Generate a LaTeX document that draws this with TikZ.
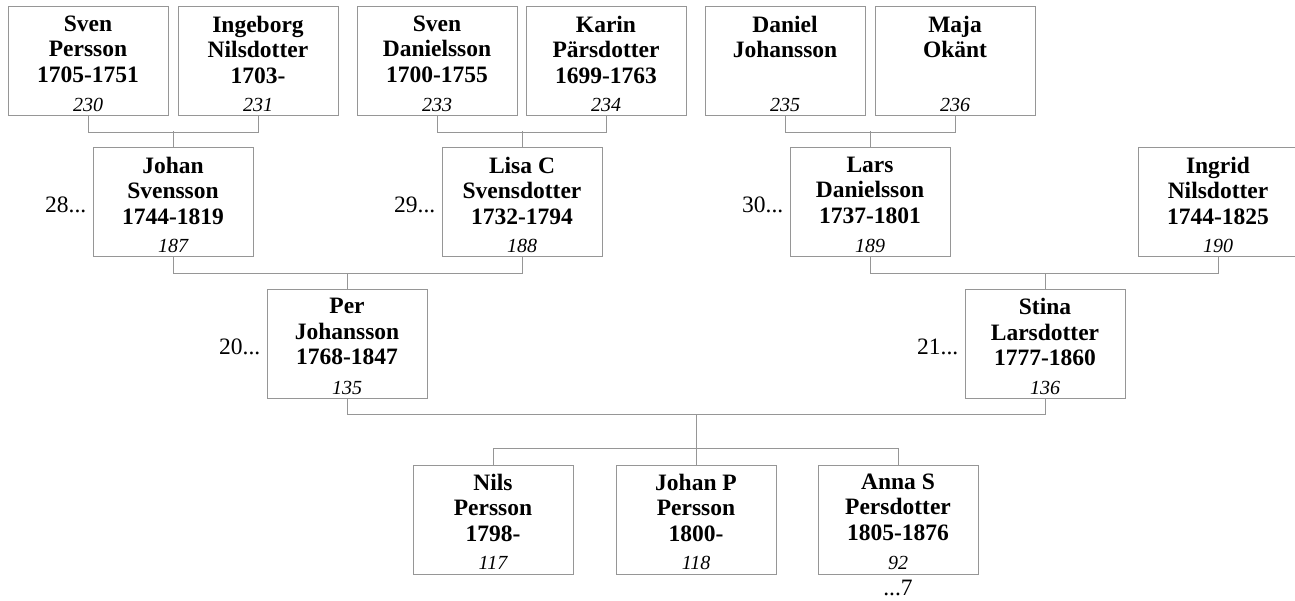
\documentclass[tikz,border=0pt]{standalone}
\usepackage{fontspec}
\setmainfont{Liberation Serif}
\usepackage{xcolor}
\usetikzlibrary{positioning}
\definecolor{boxgray}{RGB}{150,150,150}

% one person: name, x, y, text, number
\newcommand{\person}[5]{%
  \node[pbox] (#1) at (#2,#3) {};
  \node[pname,below=9pt of #1.north] (#1n) {#4};
  \node[pnum,anchor=base] (#1r) at ([yshift=5pt]#1.south) {#5};
}

\begin{document}
\begin{tikzpicture}[x=1pt,y=-1pt,
    pbox/.style={draw=boxgray,line width=1pt,minimum width=160pt,minimum height=109pt,inner sep=0pt},
    pname/.style={align=center,inner sep=0pt,font=\fontsize{23.5}{25.5}\selectfont\bfseries},
    pnum/.style={inner sep=0pt,font=\fontsize{20}{22}\selectfont\itshape},
    ref/.style={inner sep=0pt,font=\fontsize{23.5}{25.5}\selectfont},
    link/.style={draw=boxgray,line width=1pt}]
    \useasboundingbox (0,0) rectangle (1295,601);
    %\draw[red] (0,0) rectangle (1295,601);
    \person{p230}{88}{61.5}{Sven\\Persson\\1705-1751}{230}
    \person{p231}{258}{61.5}{Ingeborg\\Nilsdotter\\1703-}{231}
    \person{p233}{437}{61.5}{Sven\\Danielsson\\1700-1755}{233}
    \person{p234}{606}{61.5}{Karin\\Pärsdotter\\1699-1763}{234}
    \person{p235}{785}{61.5}{Daniel\\Johansson}{235}
    \person{p236}{955}{61.5}{Maja\\Okänt}{236}
    \person{p187}{173}{202.5}{Johan\\Svensson\\1744-1819}{187}
    \person{p188}{522}{202.5}{Lisa C\\Svensdotter\\1732-1794}{188}
    \person{p189}{870}{202.5}{Lars\\Danielsson\\1737-1801}{189}
    \person{p190}{1218}{202.5}{Ingrid\\Nilsdotter\\1744-1825}{190}
    \person{p135}{347}{344}{Per\\Johansson\\1768-1847}{135}
    \person{p136}{1045}{344}{Stina\\Larsdotter\\1777-1860}{136}
    \person{p117}{493}{519.5}{Nils\\Persson\\1798-}{117}
    \person{p118}{696}{519.5}{Johan P\\Persson\\1800-}{118}
    \person{p92}{898}{519.5}{Anna S\\Persdotter\\1805-1876}{92}
    % references
    \node[ref,left=6pt of p187,yshift=-2.5pt] (r28) {28...};
    \node[ref,left=6pt of p188,yshift=-2.5pt] (r29) {29...};
    \node[ref,left=6pt of p189,yshift=-2.5pt] (r30) {30...};
    \node[ref,left=6pt of p135,yshift=-2.5pt] (r20) {20...};
    \node[ref,left=6pt of p136,yshift=-2.5pt] (r21) {21...};
    \node[ref,below=5pt of p92] (r7) {...7};
    % couples
    \draw[link] (p230.south) -- ++(0,16) -| (p231.south);
    \draw[link] (p187.north) -- ++(0,-16);
    \draw[link] (p233.south) -- ++(0,16) -| (p234.south);
    \draw[link] (p188.north) -- ++(0,-16);
    \draw[link] (p235.south) -- ++(0,16) -| (p236.south);
    \draw[link] (p189.north) -- ++(0,-16);
    \draw[link] (p187.south) -- ++(0,16) -| (p188.south);
    \draw[link] (p135.north) -- ++(0,-16);
    \draw[link] (p189.south) -- ++(0,16) -| (p190.south);
    \draw[link] (p136.north) -- ++(0,-16);
    % children
    \draw[link] (p135.south) -- ++(0,15) -| (p136.south);
    \draw[link] (p118.north) -- ++(0,-50);
    \draw[link] (p117.north) -- ++(0,-16) -| (p92.north);
\end{tikzpicture}
\end{document}
